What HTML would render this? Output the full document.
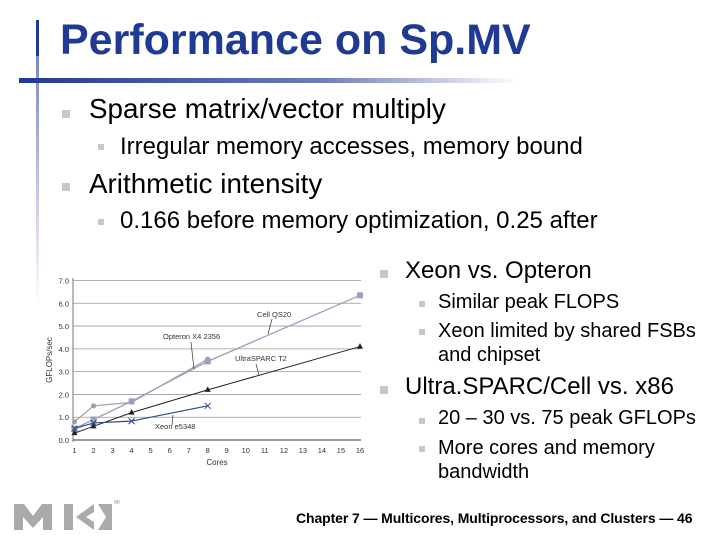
<!DOCTYPE html>
<html><head><meta charset="utf-8"><style>
body{margin:0;width:720px;height:540px;background:#fff;position:relative;overflow:hidden;font-family:"Liberation Sans",sans-serif;}
.t{position:absolute;white-space:nowrap;color:#000;}
.b{position:absolute;background:#c8c8c8;}
</style></head><body>
<div style="position:absolute;left:36px;top:20px;width:3px;height:36px;background:#1f3a93"></div>
<div style="position:absolute;left:36px;top:56px;width:3px;height:250px;background:linear-gradient(#7d88c0,#fff)"></div>
<div style="position:absolute;left:19px;top:78px;width:500px;height:5px;background:linear-gradient(90deg,#1f3a93,#6e7bb8 60%,#fff)"></div>
<div class="t" style="left:60px;top:16px;font-size:43px;font-weight:bold;color:#1f3a93">Performance on Sp.MV</div>
<div class="b" style="left:62px;top:110px;width:8px;height:8px"></div>
<div class="t" style="left:89px;top:93px;font-size:27.8px">Sparse matrix/vector multiply</div>
<div class="b" style="left:98px;top:144px;width:6px;height:6px"></div>
<div class="t" style="left:120px;top:133px;font-size:24px">Irregular memory accesses, memory bound</div>
<div class="b" style="left:62px;top:183px;width:8px;height:8px"></div>
<div class="t" style="left:89px;top:168px;font-size:27.8px">Arithmetic intensity</div>
<div class="b" style="left:98px;top:219px;width:6px;height:6px"></div>
<div class="t" style="left:120px;top:207px;font-size:24px">0.166 before memory optimization, 0.25 after</div>
<div class="b" style="left:380px;top:270px;width:8px;height:8px"></div>
<div class="t" style="left:405px;top:257px;font-size:24px">Xeon vs. Opteron</div>
<div class="b" style="left:419px;top:301px;width:6px;height:6px"></div>
<div class="t" style="left:438px;top:291px;font-size:20px">Similar peak FLOPS</div>
<div class="b" style="left:419px;top:329px;width:6px;height:6px"></div>
<div class="t" style="left:438px;top:319px;font-size:20px;line-height:24px">Xeon limited by shared FSBs<br>and chipset</div>
<div class="b" style="left:380px;top:386px;width:8px;height:8px"></div>
<div class="t" style="left:405px;top:373px;font-size:24px">Ultra.SPARC/Cell vs. x86</div>
<div class="b" style="left:419px;top:418px;width:6px;height:6px"></div>
<div class="t" style="left:438px;top:407px;font-size:20px">20 – 30 vs. 75 peak GFLOPs</div>
<div class="b" style="left:419px;top:446px;width:6px;height:6px"></div>
<div class="t" style="left:438px;top:436px;font-size:20px;line-height:24px">More cores and memory<br>bandwidth</div>
<div class="t" style="left:296px;top:510px;font-size:14px;font-weight:bold;letter-spacing:-0.1px">Chapter 7 — Multicores, Multiprocessors, and Clusters — 46</div>
<svg style="position:absolute;left:14px;top:500px" width="110" height="32">
<polygon points="0,30 0,4 10,4 19,16 28,4 38,4 38,30 29,30 29,17 19,28 9,17 9,30" fill="#aaa"/>
<rect x="50" y="4" width="9" height="26" fill="#aaa"/>
<polygon points="62,17 80,4 80,12 72,17 80,22 80,30" fill="#aaa"/>
<polygon points="84,4 98,4 98,30 84,30 92,17" fill="#aaa"/>
<text x="100" y="4" font-size="8" fill="#888" font-family="Liberation Sans">®</text>
</svg>
<svg id="chart" style="position:absolute;left:0;top:0" width="720" height="540"></svg>
<script>
const cores=[1,2,4,8,16];
const cellVals=[0.5,0.9,1.7,3.45,6.35];
const opteronVals=[0.8,1.5,1.65,3.55];
const ultraVals=[0.3,0.6,1.2,2.2,4.1];
const xeonVals=[0.5,0.75,0.83,1.5];
const xTicks=[1,2,3,4,5,6,7,8,9,10,11,12,13,14,15,16];
const yTicks=[0,1,2,3,4,5,6,7];
const svg=document.getElementById('chart');
const NS='http://www.w3.org/2000/svg';
const X=c=>74.5+(c-1)*(360-74.5)/15;
const Y=v=>440-v*(440-280.5)/7;
function mk(tag,at,txt){const e=document.createElementNS(NS,tag);for(const k in at)e.setAttribute(k,at[k]);if(txt!=null)e.textContent=txt;svg.appendChild(e);return e;}
yTicks.forEach(v=>{
 const l=mk('line',{x1:73,x2:361,y1:Y(v),y2:Y(v),stroke:v===0?'#333':'#999','stroke-width':v===0?1:0.8});
 
 
 const t=mk('text',{x:69,y:Y(v)+3,'font-size':7.5,'text-anchor':'end',fill:'#333','font-family':'Liberation Sans'},v.toFixed(1));
 
 
});
const ax=mk('line',{x1:73,x2:73,y1:278,y2:442,stroke:'#555','stroke-width':0.8});


xTicks.forEach(c=>{
 const t=mk('text',{x:X(c),y:453,'font-size':7.5,'text-anchor':'middle',fill:'#333','font-family':'Liberation Sans'},c);
 
 
});
const xt=mk('text',{x:217,y:465,'font-size':8,'text-anchor':'middle',fill:'#333','font-family':'Liberation Sans'},'Cores');


const yt=mk('text',{x:0,y:0,'font-size':8,'text-anchor':'middle',fill:'#333','font-family':'Liberation Sans',transform:'translate(52,360) rotate(-90)'},'GFLOPs/sec');


function series(name,vals,color,marker,w){
 const pts=vals.map((v,i)=>X(cores[i])+','+Y(v)).join(' ');
 const p=mk('polyline',{points:pts,fill:'none',stroke:color,'stroke-width':w});
 
 
 vals.forEach((v,i)=>{
  const x=X(cores[i]),y=Y(v);let m;
  if(marker==='sq')m=mk('rect',{x:x-3,y:y-3,width:6,height:6,fill:color});
  else if(marker==='ci')m=mk('circle',{cx:x,cy:y,r:2.5,fill:color});
  else if(marker==='tr')m=mk('polygon',{points:`${x},${y-3.5} ${x-3},${y+2} ${x+3},${y+2}`,fill:color});
  else m=mk('path',{d:`M${x-3} ${y-3}L${x+3} ${y+3}M${x-3} ${y+3}L${x+3} ${y-3}`,stroke:color,'stroke-width':1});
  
  
 });
}
series('opteron',opteronVals,'#a0a0a0','ci',1.2);
series('cell',cellVals,'#9aa0c0','sq',1.3);
series('ultrasparc',ultraVals,'#222','tr',1);
series('xeon',xeonVals,'#2a4a8a','x',1.2);
const labels=[['Cell QS20',257,317],['Opteron X4 2356',163,339],['UltraSPARC T2',235,361],['Xeon e5348',155,429]];
labels.forEach(l=>{
 const t=mk('text',{x:l[1],y:l[2],'font-size':7.5,fill:'#333','font-family':'Liberation Sans'},l[0]);
 
 
});
[[272,319,268,334],[191,342,194,369],[256,364,259,375],[172,425,173,415]].forEach(a=>{
 const l=mk('line',{x1:a[0],y1:a[1],x2:a[2],y2:a[3],stroke:'#333','stroke-width':0.7});
 
 
});
</script>
</body></html>
